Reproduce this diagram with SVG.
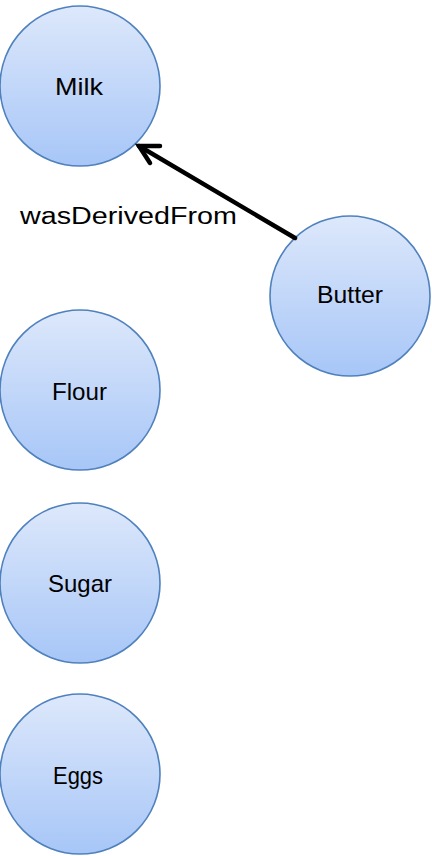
<svg xmlns="http://www.w3.org/2000/svg" width="432" height="856" viewBox="0 0 432 856">
  <defs>
    <linearGradient id="nodeFill" x1="0" y1="0" x2="0" y2="1">
      <stop offset="0" stop-color="#dde8fb"/>
      <stop offset="1" stop-color="#a7c6f7"/>
    </linearGradient>
  </defs>
  <style>
    .node circle { fill: url(#nodeFill); stroke: #4f81bd; stroke-width: 1.6; }
    .node text { font-family: "Liberation Sans", Arial, sans-serif; font-size: 24px; fill: #000; text-anchor: middle; }
    .edge { fill: none; stroke: #000; stroke-width: 4.5; stroke-linecap: round; stroke-linejoin: miter; }
    .label { font-family: "Liberation Sans", Arial, sans-serif; font-size: 23.5px; fill: #000; }
  </style>
  <rect width="432" height="856" fill="#fff"/>

  <g id="milk" class="node">
    <circle cx="80" cy="86" r="80"/>
    <text x="79" y="95" textLength="48" lengthAdjust="spacingAndGlyphs">Milk</text>
  </g>
  <g id="butter" class="node">
    <circle cx="350" cy="296" r="80"/>
    <text x="350" y="303" textLength="66" lengthAdjust="spacingAndGlyphs">Butter</text>
  </g>
  <g id="flour" class="node">
    <circle cx="80" cy="390" r="80"/>
    <text x="79.5" y="400" textLength="55" lengthAdjust="spacingAndGlyphs">Flour</text>
  </g>
  <g id="sugar" class="node">
    <circle cx="80" cy="583" r="80"/>
    <text x="80" y="592" textLength="64" lengthAdjust="spacingAndGlyphs">Sugar</text>
  </g>
  <g id="eggs" class="node">
    <circle cx="80" cy="774" r="80"/>
    <text x="78" y="784" style="font-size:23px" textLength="50" lengthAdjust="spacingAndGlyphs">Eggs</text>
  </g>

  <g id="connectors">
    <path class="edge" d="M295,238 L139,146"/>
    <path class="edge" d="M160,146 L139,146 L150,163"/>
    <text class="label" x="20" y="224" textLength="217" lengthAdjust="spacingAndGlyphs">wasDerivedFrom</text>
  </g>
</svg>
